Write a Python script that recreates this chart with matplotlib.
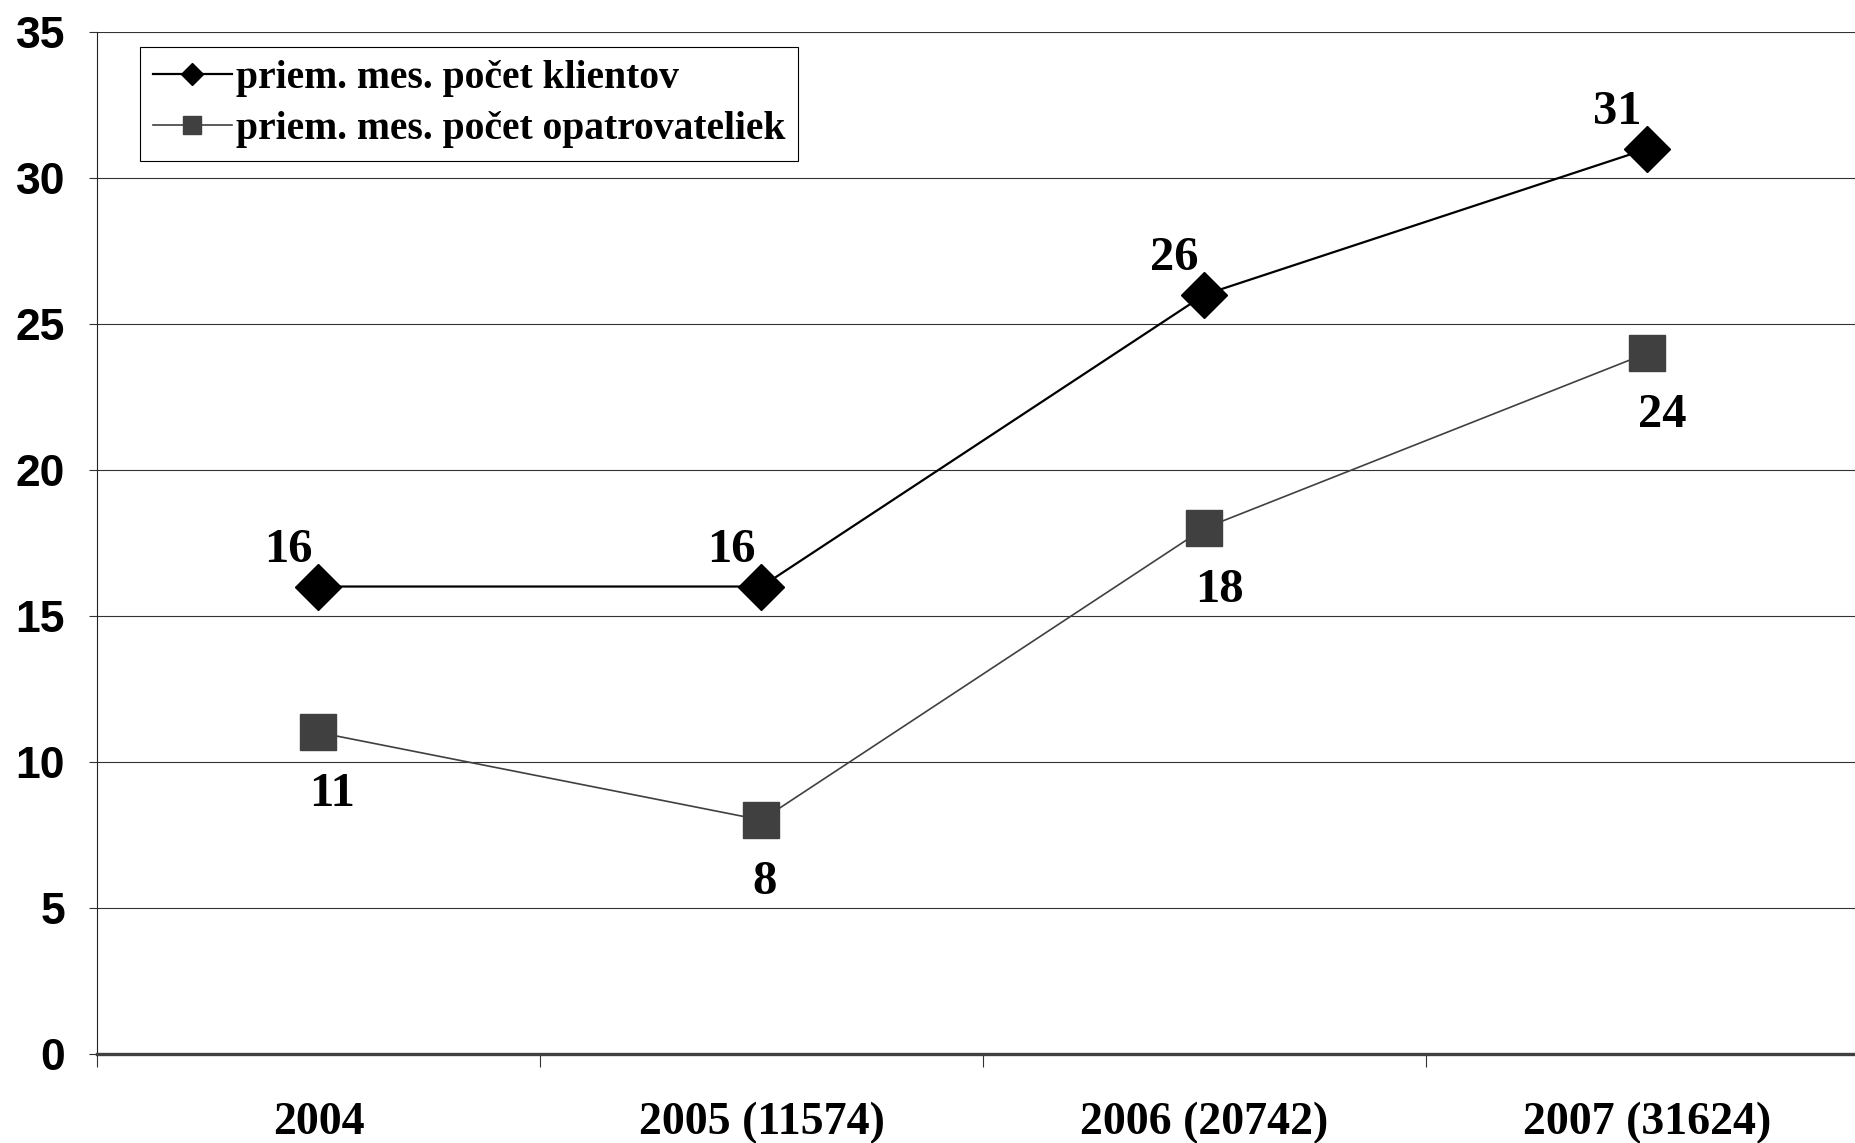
import matplotlib
matplotlib.use("Agg")
import matplotlib.pyplot as plt

categories = ["2004", "2005 (11574)", "2006 (20742)", "2007 (31624)"]
clients = [16, 16, 26, 31]
caregivers = [11, 8, 18, 24]
label_clients = "priem. mes. počet klientov"
label_caregivers = "priem. mes. počet opatrovateliek"
yticks = [0, 5, 10, 15, 20, 25, 30, 35]

W, H = 1856, 1143
fig = plt.figure(figsize=(W / 100, H / 100), dpi=100)
left, right, top, bottom = 97, 1869, 32, 1053.5
ax = fig.add_axes([left / W, 1 - bottom / H, (right - left) / W, (bottom - top) / H])

x = list(range(len(categories)))
serif = "Liberation Serif"
sans = "Liberation Sans"

ax.plot(x, clients, color="black", lw=1.6, marker="D", ms=23, mfc="black", mec="black",
        label=label_clients, zorder=4)
ax.plot(x, caregivers, color="#404040", lw=1.2, marker="s", ms=26, mfc="#404040", mec="#404040",
        label=label_caregivers, zorder=4)

for xi, v in zip(x, clients):
    ax.annotate(str(v), (xi, v), xytext=(-6, 37), textcoords="offset pixels",
                ha="right", va="center", fontsize=35, fontweight="bold", family=serif, zorder=5)
for xi, v in zip(x, caregivers):
    ax.annotate(str(v), (xi, v), xytext=(-9, -62), textcoords="offset pixels",
                ha="left", va="center", fontsize=35, fontweight="bold", family=serif, zorder=5)

ax.set_xlim(-0.5, len(categories) - 0.5)
ax.set_ylim(0, 35)
ax.set_yticks(yticks)
ax.set_yticklabels([str(t) for t in yticks], fontsize=32, fontweight="bold", family=sans)
ax.set_xticks(x)
ax.set_xticklabels(categories, fontsize=33, fontweight="bold", family=serif)
ax.set_xticks([i - 0.5 for i in range(len(categories) + 1)], minor=True)
ax.tick_params(axis="x", which="major", length=0, pad=35)
ax.tick_params(axis="x", which="minor", length=9, width=0.8, color="#333333", direction="out")
ax.tick_params(axis="y", length=6, width=0.8, color="#333333", pad=17)

ax.yaxis.grid(True, color="#333333", lw=0.8)
ax.set_axisbelow(True)
for s in ["top", "right"]:
    ax.spines[s].set_visible(False)
ax.spines["left"].set_color("#222222")
ax.spines["left"].set_linewidth(0.8)
ax.spines["bottom"].set_color("#404040")
ax.spines["bottom"].set_linewidth(2.4)

leg = ax.legend(loc="upper left", bbox_to_anchor=(140 / W, 1 - 47 / H), bbox_transform=fig.transFigure,
                borderaxespad=0, fancybox=False, frameon=True, edgecolor="black", framealpha=1,
                prop={"family": serif, "weight": "bold", "size": 28.5}, handlelength=2.0,
                handletextpad=0.1, borderpad=0.32, labelspacing=0.36, markerscale=0.5)
leg.get_frame().set_linewidth(0.8)

fig.savefig("out.png", dpi=100)
